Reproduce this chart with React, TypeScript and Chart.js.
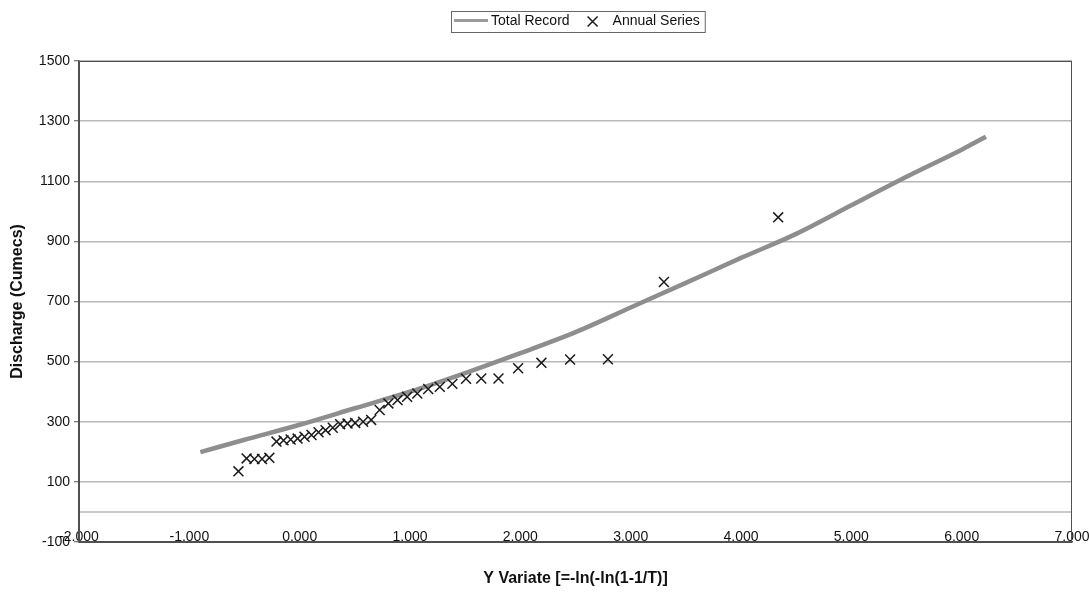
import { useEffect, useRef } from "react";
import { Chart, registerables } from "chart.js";

Chart.register(...registerables);

// Fitted frequency curve ("Total Record")
const curveX = [-0.9, -0.5, 0, 0.5, 1.0, 1.5, 2.0, 2.5, 3.0, 3.5, 4.0, 4.5, 5.0, 5.5, 6.0, 6.22];
const curveY = [199, 240, 290, 345, 400, 462, 528, 598, 680, 762, 845, 925, 1020, 1115, 1205, 1248];

// Observed annual maxima ("Annual Series"), Y variate vs discharge
const annualX = [
  4.337, 3.301, 2.794, 2.451, 2.191, 1.98, 1.802, 1.646, 1.508, 1.384,
  1.27, 1.165, 1.066, 0.974, 0.887, 0.804, 0.725, 0.648, 0.575, 0.503,
  0.434, 0.367, 0.3, 0.235, 0.171, 0.107, 0.044, -0.019, -0.082, -0.146,
  -0.21, -0.275, -0.341, -0.41, -0.481, -0.555,
];
const annualY = [
  980, 765, 508, 507, 496, 478, 444, 444, 443, 426,
  416, 409, 394, 383, 372, 361, 339, 306, 300, 296,
  294, 292, 280, 272, 265, 256, 250, 244, 241, 238,
  234, 180, 176, 176, 178, 135,
];

const seriesLabels = ["Total Record", "Annual Series"];
const xTitle = "Y Variate [=-ln(-ln(1-1/T)]";
const yTitle = "Discharge (Cumecs)";
const xMin = -2, xMax = 7, xStep = 1;
const yMin = -100, yMax = 1500, yStep = 200;

const FONT = '"Liberation Sans", Arial, Helvetica, sans-serif';
const GRID = "#b8b8b8";
const FRAME = "#505050";

const framePlugin = {
  id: "frameAndZero",
  beforeDatasetsDraw(chart: any) {
    const { ctx, chartArea } = chart;
    const y0 = chart.scales.y.getPixelForValue(0);
    ctx.save();
    ctx.strokeStyle = GRID;
    ctx.lineWidth = 1.5;
    ctx.beginPath();
    ctx.moveTo(chartArea.left, y0);
    ctx.lineTo(chartArea.right, y0);
    ctx.stroke();
    ctx.restore();
  },
  afterDatasetsDraw(chart: any) {
    const { ctx, chartArea } = chart;
    ctx.save();
    ctx.strokeStyle = FRAME;
    ctx.lineWidth = 1;
    ctx.strokeRect(
      chartArea.left + 0.5,
      chartArea.top + 0.5,
      chartArea.right - chartArea.left - 1,
      chartArea.bottom - chartArea.top
    );
    ctx.restore();
  },
};

const legendPlugin = {
  id: "boxLegend",
  afterDraw(chart: any) {
    const { ctx } = chart;
    const ds = chart.data.datasets;
    ctx.save();
    ctx.font = `14px ${FONT}`;
    ctx.textBaseline = "middle";
    const t1 = ds[0].label as string;
    const t2 = ds[1].label as string;
    const w1 = ctx.measureText(t1).width;
    const w2 = ctx.measureText(t2).width;
    const pad = 3, sample = 34, g1 = 3, g2 = 17, cw = 12, g3 = 14;
    const total = pad + sample + g1 + w1 + g2 + cw + g3 + w2 + pad + 2;
    const cx = 577.5;
    const left = Math.round(cx - total / 2);
    const top = 11, h = 21, midY = top + h / 2;
    ctx.strokeStyle = "#666";
    ctx.lineWidth = 1;
    ctx.strokeRect(left + 0.5, top + 0.5, total, h);
    let x = left + pad;
    ctx.strokeStyle = "#9a9a9a";
    ctx.lineWidth = 3;
    ctx.beginPath();
    ctx.moveTo(x, midY - 1);
    ctx.lineTo(x + sample, midY - 1);
    ctx.stroke();
    x += sample + g1;
    ctx.fillStyle = "#111";
    ctx.fillText(t1, x, midY);
    x += w1 + g2;
    ctx.strokeStyle = "#1a1a1a";
    ctx.lineWidth = 1.5;
    ctx.beginPath();
    ctx.moveTo(x + 1, midY - 5);
    ctx.lineTo(x + 11, midY + 5);
    ctx.moveTo(x + 11, midY - 5);
    ctx.lineTo(x + 1, midY + 5);
    ctx.stroke();
    x += cw + g3;
    ctx.fillText(t2, x, midY);
    ctx.restore();
  },
};

export default function App() {
  const ref = useRef<HTMLCanvasElement | null>(null);

  useEffect(() => {
    document.body.style.margin = "0";
    const canvas = ref.current;
    if (!canvas) return;
    const chart = new Chart(canvas, {
      type: "scatter",
      data: {
        datasets: [
          {
            label: seriesLabels[0],
            data: curveX.map((x, i) => ({ x, y: curveY[i] })),
            showLine: true,
            borderColor: "#8e8e8e",
            borderWidth: 4.5,
            pointRadius: 0,
            cubicInterpolationMode: "monotone",
            order: 1,
          } as any,
          {
            label: seriesLabels[1],
            data: annualX.map((x, i) => ({ x, y: annualY[i] })),
            showLine: false,
            pointStyle: "crossRot",
            pointRadius: 7,
            borderColor: "#1a1a1a",
            backgroundColor: "rgba(0,0,0,0)",
            borderWidth: 1.5,
            order: 0,
          } as any,
        ],
      },
      options: {
        responsive: false,
        animation: false,
        devicePixelRatio: 1,
        layout: { padding: { top: 61, right: 17, left: 0, bottom: 0 } },
        plugins: {
          legend: { display: false },
          tooltip: { enabled: false },
        },
        scales: {
          x: {
            type: "linear",
            min: xMin,
            max: xMax,
            afterFit(scale: any) {
              scale.height = 50;
              scale.paddingLeft = 0;
              scale.paddingRight = 0;
            },
            ticks: {
              stepSize: xStep,
              mirror: true,
              padding: -4,
              color: "#111",
              font: { family: FONT, size: 14 },
              maxRotation: 0,
              autoSkip: false,
              callback: (v: any) => Number(v).toFixed(3),
            },
            grid: { display: false, drawTicks: false },
            border: { display: true, color: FRAME, width: 1.5 },
            title: {
              display: true,
              text: xTitle,
              color: "#111",
              font: { family: FONT, size: 16, weight: "bold" },
              padding: { top: 0, bottom: 4 },
            },
          },
          y: {
            type: "linear",
            min: yMin,
            max: yMax,
            afterFit(scale: any) {
              scale.width = 79;
            },
            ticks: {
              stepSize: yStep,
              padding: 4,
              color: "#111",
              font: { family: FONT, size: 14 },
              callback: (v: any) => String(v),
            },
            grid: {
              color: GRID,
              lineWidth: 1.5,
              drawTicks: true,
              tickLength: 5,
              tickColor: FRAME,
              tickWidth: 1,
            },
            border: { display: true, color: FRAME, width: 1.5 },
            title: {
              display: true,
              text: yTitle,
              color: "#111",
              font: { family: FONT, size: 16, weight: "bold" },
              padding: { top: 8, bottom: 0 },
            },
          },
        },
      } as any,
      plugins: [framePlugin, legendPlugin],
    });
    return () => chart.destroy();
  }, []);

  return (
    <div style={{ width: 1089, height: 592, background: "#fff" }}>
      <canvas ref={ref} width={1089} height={592} style={{ display: "block" }} />
    </div>
  );
}
